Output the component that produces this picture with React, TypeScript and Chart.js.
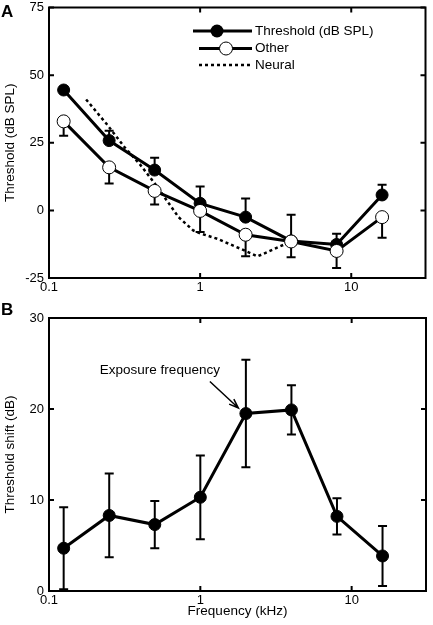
import React, { useEffect, useRef } from "react";
import { Chart, registerables } from "chart.js";

Chart.register(...registerables);

// ---------- data ----------
const FREQS = [0.125, 0.25, 0.5, 1, 2, 4, 8, 16];
const THRESHOLD = [44.5, 25.8, 14.9, 2.6, -2.5, -11.3, -12.6, 5.7];
const THRESHOLD_ERR = [1.2, 3.6, 4.6, 6.2, 6.9, 9.7, 4.0, 3.8];
const OTHER = [32.9, 15.9, 7.2, -0.2, -9.0, -11.5, -15.0, -2.5];
const OTHER_ERR = [5.3, 6.0, 5.0, 7.8, 8.0, 5.8, 6.3, 7.6];
const NEURAL_FREQS = [0.176, 0.24, 0.32, 0.4, 0.5, 0.72, 0.9, 1.0, 1.3, 2.0, 2.4, 4.0];
const NEURAL = [41, 32, 23, 17, 10, -2.5, -7.4, -8.5, -10.5, -15, -17, -11.5];
const SHIFT = [4.7, 8.3, 7.3, 10.3, 19.5, 19.9, 8.2, 3.85];
const SHIFT_ERR = [4.5, 4.6, 2.6, 4.6, 5.9, 2.7, 2.0, 3.3];

const X_TICKS = [0.1, 1, 10];
const Y_TICKS_A = [-25, 0, 25, 50, 75];
const Y_TICKS_B = [0, 10, 20, 30];
const LEGEND_LABELS = ["Threshold (dB SPL)", "Other", "Neural"];
const EXPOSURE_LABEL = "Exposure frequency";
const EXPOSURE_INDEX = 4;

const FONT = "'Liberation Sans', Arial, Helvetica, sans-serif";

const pts = (xs: number[], ys: number[]) => xs.map((x, i) => ({ x, y: ys[i] }));

function framePlugin(yTicks: number[], letter: string, letterY: number) {
  return {
    id: "frameTicks",
    beforeDatasetsDraw(chart: any) {
      const ctx = chart.ctx;
      const xs = chart.scales.x;
      const ys = chart.scales.y;
      ctx.save();
      ctx.strokeStyle = "#000";
      ctx.lineWidth = 2;
      chart.data.datasets.forEach((ds: any) => {
        if (!ds.errUp && !ds.errDown) return;
        ds.data.forEach((p: any, i: number) => {
          const x = xs.getPixelForValue(p.x);
          const up = ds.errUp ? ds.errUp[i] : 0;
          const dn = ds.errDown ? ds.errDown[i] : 0;
          const yTop = ys.getPixelForValue(p.y + up);
          const yBot = ys.getPixelForValue(p.y - dn);
          ctx.beginPath();
          ctx.moveTo(x, yTop);
          ctx.lineTo(x, yBot);
          if (up) {
            ctx.moveTo(x - 4.5, yTop);
            ctx.lineTo(x + 4.5, yTop);
          }
          if (dn) {
            ctx.moveTo(x - 4.5, yBot);
            ctx.lineTo(x + 4.5, yBot);
          }
          ctx.stroke();
        });
      });
      ctx.restore();
    },
    afterDraw(chart: any) {
      const ctx = chart.ctx;
      const { left, right, top, bottom } = chart.chartArea;
      const xs = chart.scales.x;
      const ys = chart.scales.y;
      ctx.save();
      ctx.strokeStyle = "#000";
      ctx.lineWidth = 2;
      ctx.strokeRect(left, top, right - left, bottom - top);
      const tl = 5;
      ctx.beginPath();
      X_TICKS.forEach((v) => {
        const x = xs.getPixelForValue(v);
        ctx.moveTo(x, bottom);
        ctx.lineTo(x, bottom - tl);
        ctx.moveTo(x, top);
        ctx.lineTo(x, top + tl);
      });
      yTicks.forEach((v) => {
        const y = ys.getPixelForValue(v);
        ctx.moveTo(left, y);
        ctx.lineTo(left + tl, y);
        ctx.moveTo(right, y);
        ctx.lineTo(right - tl, y);
      });
      ctx.stroke();
      ctx.fillStyle = "#000";
      ctx.font = `bold 17px ${FONT}`;
      ctx.textAlign = "left";
      ctx.textBaseline = "alphabetic";
      ctx.fillText(letter, 1, letterY);
      ctx.restore();
    },
  };
}

const legendPlugin = {
  id: "customLegend",
  afterDraw(chart: any) {
    const ctx = chart.ctx;
    ctx.save();
    ctx.strokeStyle = "#000";
    ctx.fillStyle = "#000";
    ctx.font = `13.5px ${FONT}`;
    ctx.textAlign = "left";
    ctx.textBaseline = "middle";
    // row 1
    ctx.lineWidth = 3;
    ctx.beginPath();
    ctx.moveTo(193, 31);
    ctx.lineTo(252, 31);
    ctx.stroke();
    ctx.beginPath();
    ctx.arc(217, 31, 6.5, 0, Math.PI * 2);
    ctx.fill();
    ctx.fillText(LEGEND_LABELS[0], 255, 31);
    // row 2
    ctx.beginPath();
    ctx.moveTo(199, 48.5);
    ctx.lineTo(252, 48.5);
    ctx.stroke();
    ctx.beginPath();
    ctx.arc(226, 48.5, 6.5, 0, Math.PI * 2);
    ctx.fillStyle = "#fff";
    ctx.fill();
    ctx.lineWidth = 1;
    ctx.stroke();
    ctx.fillStyle = "#000";
    ctx.fillText(LEGEND_LABELS[1], 255, 48.5);
    // row 3
    ctx.lineWidth = 2.5;
    ctx.setLineDash([3, 3]);
    ctx.beginPath();
    ctx.moveTo(199, 65);
    ctx.lineTo(252, 65);
    ctx.stroke();
    ctx.setLineDash([]);
    ctx.fillText(LEGEND_LABELS[2], 255, 65);
    ctx.restore();
  },
};

const annotationPlugin = {
  id: "exposureArrow",
  afterDraw(chart: any) {
    const ctx = chart.ctx;
    const px = chart.scales.x.getPixelForValue(FREQS[EXPOSURE_INDEX]);
    const py = chart.scales.y.getPixelForValue(SHIFT[EXPOSURE_INDEX]);
    ctx.save();
    ctx.fillStyle = "#000";
    ctx.strokeStyle = "#000";
    ctx.font = `13.5px ${FONT}`;
    ctx.textAlign = "center";
    ctx.textBaseline = "middle";
    ctx.fillText(EXPOSURE_LABEL, px - 86, py - 43.5);
    const tx = px - 36, ty = py - 32;
    const hx = px - 7.5, hy = py - 5.5;
    ctx.lineWidth = 1.5;
    ctx.beginPath();
    ctx.moveTo(tx, ty);
    ctx.lineTo(hx, hy);
    const ang = Math.atan2(hy - ty, hx - tx);
    const len = 10, spread = 0.35;
    ctx.moveTo(hx - len * Math.cos(ang - spread), hy - len * Math.sin(ang - spread));
    ctx.lineTo(hx, hy);
    ctx.lineTo(hx - len * Math.cos(ang + spread), hy - len * Math.sin(ang + spread));
    ctx.stroke();
    ctx.restore();
  },
};

function xScale(height: number, showTitle: boolean) {
  return {
    type: "logarithmic",
    min: 0.1,
    max: 31,
    grid: { display: false, drawTicks: false },
    border: { display: false },
    afterBuildTicks: (s: any) => {
      s.ticks = X_TICKS.map((v) => ({ value: v }));
    },
    afterFit: (s: any) => {
      s.height = height;
      s.paddingLeft = 0;
      s.paddingRight = 0;
    },
    ticks: {
      autoSkip: false,
      maxRotation: 0,
      padding: 2,
      color: "#000",
      font: { family: FONT, size: 13 },
      callback: (v: any) => String(v),
    },
    title: {
      display: showTitle,
      text: "Frequency (kHz)",
      color: "#000",
      font: { family: FONT, size: 13.5 },
      padding: { top: 0, bottom: 6 },
    },
  };
}

function yScale(min: number, max: number, ticks: number[], title: string) {
  return {
    type: "linear",
    min,
    max,
    grid: { display: false, drawTicks: false },
    border: { display: false },
    afterBuildTicks: (s: any) => {
      s.ticks = ticks.map((v) => ({ value: v }));
    },
    afterFit: (s: any) => {
      s.width = 49;
      s.paddingTop = 0;
      s.paddingBottom = 0;
    },
    ticks: {
      padding: 5,
      color: "#000",
      font: { family: FONT, size: 13 },
      callback: (v: any) => String(v),
    },
    title: {
      display: true,
      text: title,
      color: "#000",
      font: { family: FONT, size: 13.5 },
      padding: { top: 2, bottom: 0 },
    },
  };
}

export default function App() {
  const refA = useRef<HTMLCanvasElement>(null);
  const refB = useRef<HTMLCanvasElement>(null);

  useEffect(() => {
    const chartA = new Chart(refA.current as HTMLCanvasElement, {
      type: "line",
      data: {
        datasets: [
          {
            label: LEGEND_LABELS[0],
            data: pts(FREQS, THRESHOLD),
            errUp: THRESHOLD_ERR,
            borderColor: "#000",
            backgroundColor: "#000",
            borderWidth: 3,
            pointRadius: 6,
            pointBorderWidth: 1,
            pointBackgroundColor: "#000",
            pointBorderColor: "#000",
            order: 1,
          } as any,
          {
            label: LEGEND_LABELS[1],
            data: pts(FREQS, OTHER),
            errDown: OTHER_ERR,
            borderColor: "#000",
            backgroundColor: "#fff",
            borderWidth: 3,
            pointRadius: 6.5,
            pointBorderWidth: 1,
            pointBackgroundColor: "#fff",
            pointBorderColor: "#000",
            order: 0,
          } as any,
          {
            label: LEGEND_LABELS[2],
            data: pts(NEURAL_FREQS, NEURAL),
            borderColor: "#000",
            borderWidth: 2.5,
            borderDash: [3, 3],
            pointRadius: 0,
            order: 2,
          } as any,
        ],
      },
      options: {
        animation: false,
        responsive: false,
        devicePixelRatio: 1,
        layout: { padding: { top: 5, right: 3, bottom: 0, left: 0 } },
        plugins: { legend: { display: false }, tooltip: { enabled: false } },
        scales: {
          x: xScale(22, false) as any,
          y: yScale(-25, 75, Y_TICKS_A, "Threshold (dB SPL)") as any,
        },
      },
      plugins: [framePlugin(Y_TICKS_A, "A", 17), legendPlugin],
    });

    const chartB = new Chart(refB.current as HTMLCanvasElement, {
      type: "line",
      data: {
        datasets: [
          {
            label: "Threshold shift",
            data: pts(FREQS, SHIFT),
            errUp: SHIFT_ERR,
            errDown: SHIFT_ERR,
            borderColor: "#000",
            backgroundColor: "#000",
            borderWidth: 3,
            pointRadius: 6,
            pointBorderWidth: 1,
            pointBackgroundColor: "#000",
            pointBorderColor: "#000",
          } as any,
        ],
      },
      options: {
        animation: false,
        responsive: false,
        devicePixelRatio: 1,
        layout: { padding: { top: 18, right: 3, bottom: 0, left: 0 } },
        plugins: { legend: { display: false }, tooltip: { enabled: false } },
        scales: {
          x: xScale(34, true) as any,
          y: yScale(0, 30, Y_TICKS_B, "Threshold shift (dB)") as any,
        },
      },
      plugins: [framePlugin(Y_TICKS_B, "B", 15), annotationPlugin],
    });

    return () => {
      chartA.destroy();
      chartB.destroy();
    };
  }, []);

  return (
    <div style={{ position: "absolute", left: 0, top: 0, width: 433, height: 625, background: "#fff" }}>
      <canvas
        ref={refA}
        width={433}
        height={300}
        style={{ position: "absolute", left: 0, top: 0, width: 433, height: 300 }}
      />
      <canvas
        ref={refB}
        width={433}
        height={325}
        style={{ position: "absolute", left: 0, top: 300, width: 433, height: 325 }}
      />
    </div>
  );
}
